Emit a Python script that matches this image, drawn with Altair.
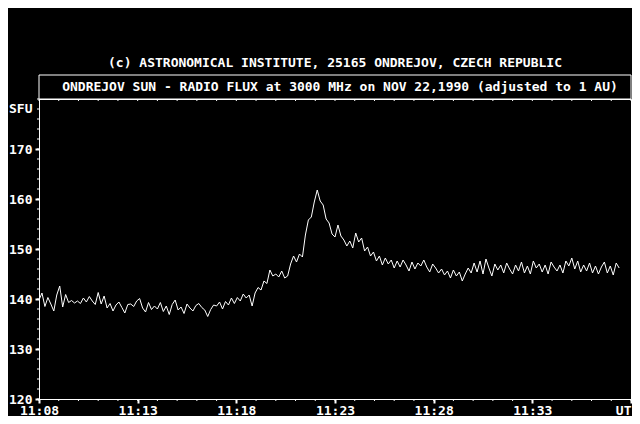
import altair as alt
import pandas as pd

# ---- data (SFU values, one every 9 s starting 11:08:00 UT) ----
flux = [
    139.8, 141.2, 138.5, 140.3, 139.0, 137.6, 140.8, 142.6, 138.4, 140.9,
    139.3, 139.7, 139.2, 139.6, 139.1, 140.2, 139.4, 140.5, 139.6, 138.9,
    141.3, 139.0, 140.6, 138.2, 139.1, 137.6, 138.8, 139.4, 138.3, 137.2,
    138.9, 139.0, 138.5, 139.6, 140.1, 138.2, 137.4, 139.3, 137.9, 138.6,
    138.0, 139.3, 137.5, 138.6, 136.9, 138.9, 139.8, 137.8, 138.4, 137.1,
    139.0, 138.2, 137.6, 138.7, 139.1, 138.3, 137.8, 136.5, 137.9, 138.8,
    138.6, 139.4, 138.0, 139.5, 138.8, 140.2, 139.1, 140.3, 139.6, 141.0,
    140.2, 140.8, 138.6, 141.2, 142.3, 141.8, 143.6, 143.1, 145.8, 144.6,
    145.0, 144.4, 145.6, 144.2, 144.6, 147.0, 148.6, 147.4, 149.0, 148.4,
    152.8, 155.8, 156.4, 159.4, 161.8, 159.6, 158.8, 156.0, 155.2, 153.0,
    152.4, 154.8, 152.6, 151.8, 150.6, 151.6, 150.2, 153.2, 151.4, 152.2,
    149.6, 150.4, 148.6, 149.4, 147.6, 148.6, 146.8, 148.2, 147.0, 147.8,
    146.2, 147.6, 146.4, 147.8, 146.8, 145.6, 147.4, 146.0, 147.2, 146.6,
    147.8, 146.4, 145.4, 147.0, 146.2, 145.2, 146.0, 144.8, 145.6, 144.2,
    145.8, 144.6, 145.4, 143.6, 145.0, 146.2, 145.2, 147.2, 145.4, 147.6,
    145.0, 148.0, 146.2, 144.6, 147.0, 145.8, 146.8, 145.2, 147.2, 146.0,
    145.0, 146.8, 145.6, 147.4, 145.2, 146.6, 145.0, 147.6, 146.2, 147.0,
    145.4, 146.8, 145.0, 147.4, 146.4, 145.6, 146.8, 145.2, 147.6, 146.6,
    148.2, 146.0, 147.6, 145.4, 146.8, 145.6, 147.2, 145.2, 146.6, 145.0,
    146.4, 147.4, 145.2, 146.6, 144.8, 147.2, 146.2,
]
step_min = 0.15  # 9 seconds
minutes = [round(i * step_min, 3) for i in range(len(flux))]

x_ticks = [0, 5, 10, 15, 20, 25, 30]
x_labels = ["11:08", "11:13", "11:18", "11:23", "11:28", "11:33", "UT"]
y_ticks = [120, 130, 140, 150, 160, 170]
x_minor = list(range(0, 31))
y_minor = list(range(120, 181, 2))

copyright_text = "(c) ASTRONOMICAL INSTITUTE, 25165 ONDREJOV, CZECH REPUBLIC"
title_text = "ONDREJOV SUN - RADIO FLUX at 3000 MHz on NOV 22,1990 (adjusted to 1 AU)"

FONT = "DejaVu Sans Mono"
FS = 13
W, H = 592, 300

df = pd.DataFrame({"m": minutes, "v": flux})
xs = alt.Scale(domain=[0, 30], nice=False, zero=False)
ys = alt.Scale(domain=[120, 180], nice=False, zero=False)

label_expr = "[" + ",".join("'" + s + "'" for s in x_labels) + "][round(datum.value/5)]"

line = alt.Chart(df).mark_line(color="white", strokeWidth=1, clip=True).encode(
    x=alt.X("m:Q", scale=xs, axis=alt.Axis(
        values=x_ticks, labelExpr=label_expr, title=None, grid=False,
        domainColor="white", tickColor="white", tickSize=4, tickWidth=2,
        labelColor="white", labelFont=FONT, labelFontSize=FS, labelFontWeight="bold",
        labelPadding=11, labelBaseline="alphabetic", labelFlush=False,
        labelAlign={"condition": {"test": "datum.value == 30", "value": "right"}, "value": "center"},
    )),
    y=alt.Y("v:Q", scale=ys, axis=alt.Axis(
        values=y_ticks, grid=False, title="SFU", titleAngle=0, titleAlign="right",
        titleBaseline="middle", titleX=-7, titleY=9, titleColor="white", titleFont=FONT,
        titleFontSize=FS, titleFontWeight="bold",
        domainColor="white", tickColor="white", tickSize=4, tickWidth=2,
        labelColor="white", labelFont=FONT, labelFontSize=FS, labelFontWeight="bold",
        labelPadding=3, labelFlush=False,
    )),
)

xminor_df = pd.DataFrame({"m": x_minor})
xminor = alt.Chart(xminor_df).mark_rule(color="white", strokeWidth=1).encode(
    x=alt.X("m:Q", scale=xs), y=alt.value(H), y2=alt.value(H + 2))
xtop = alt.Chart(xminor_df).mark_rule(color="white", strokeWidth=1).encode(
    x=alt.X("m:Q", scale=xs), y=alt.value(0), y2=alt.value(2))

yminor_df = pd.DataFrame({"v": y_minor})
yminor = alt.Chart(yminor_df).mark_rule(color="white", strokeWidth=1).encode(
    y=alt.Y("v:Q", scale=ys), x=alt.value(-2), x2=alt.value(0))

one = pd.DataFrame({"t": [title_text], "c": [copyright_text]})
box = alt.Chart(one).mark_rect(fill="black", stroke="white", strokeWidth=1).encode(
    x=alt.value(0), x2=alt.value(W), y=alt.value(-24), y2=alt.value(0))
title = alt.Chart(one).mark_text(color="white", font=FONT, fontSize=FS, fontWeight="bold",
                                 align="center", baseline="middle").encode(
    text="t:N", x=alt.value(301), y=alt.value(-12))
copy = alt.Chart(one).mark_text(color="white", font=FONT, fontSize=FS, fontWeight="bold",
                                align="center", baseline="middle").encode(
    text="c:N", x=alt.value(296), y=alt.value(-36))

chart = alt.layer(box, title, copy, xminor, xtop, yminor, line).properties(
    width=W, height=H, autosize="none",
    padding={"left": 31, "top": 91, "right": 1, "bottom": 17},
).configure(background="black").configure_view(stroke="white", strokeWidth=1, fill="black")

chart.save("out.html", embed_options={"renderer": "svg", "actions": False})
